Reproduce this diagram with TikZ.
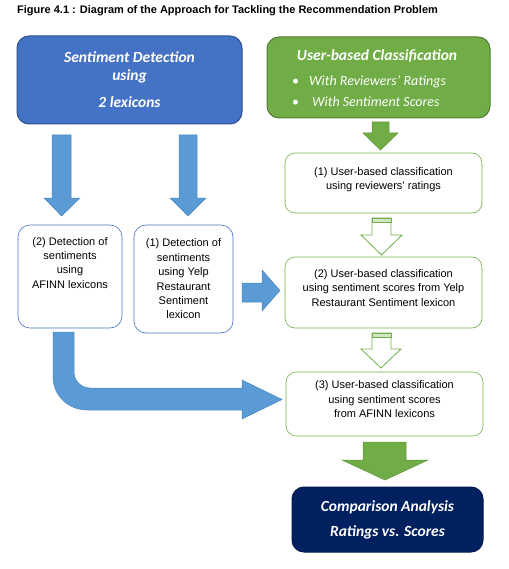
\documentclass[tikz,border=0pt]{standalone}
\usepackage{fontspec}
\setmainfont{Liberation Sans}
\newfontfamily\calibri{Carlito}
\definecolor{bluefill}{HTML}{4472C4}
\definecolor{blueedge}{HTML}{2F528F}
\definecolor{greenfill}{HTML}{70AD47}
\definecolor{greenedge}{HTML}{507E32}
\definecolor{arrowblue}{HTML}{5B9BD5}
\definecolor{arrowedge}{HTML}{4A86C0}
\definecolor{navy}{HTML}{002060}
\tikzset{
  headbox/.style={rounded corners=12pt, line width=1pt, text=white, align=center, inner sep=0pt,
    font=\calibri\bfseries\itshape\fontsize{15.5}{18}\selectfont},
  headtxt/.style={text=white, inner sep=0pt, font=\calibri\itshape\fontsize{14}{18}\selectfont},
  lexbox/.style={draw=bluefill, rounded corners=12pt, line width=0.6pt, fill=white},
  clsbox/.style={draw=greenfill, rounded corners=10pt, line width=0.6pt, fill=white, text depth=9.5pt},
  txt/.style={align=center, inner sep=0pt, font=\fontsize{11}{14.4}\selectfont},
  bluearrow/.style={fill=arrowblue, draw=arrowedge, line width=0.5pt},
  greenarrow/.style={fill=greenfill, draw=greenfill!85!black, line width=0.5pt},
  hollowarrow/.style={fill=white, draw=greenfill, line width=0.8pt}
}
\begin{document}
\begin{tikzpicture}[x=1pt, y=-1pt]
  \useasboundingbox (0,0) rectangle (508,569);
  \node[anchor=west, inner sep=0pt, font=\bfseries\fontsize{11}{12}\selectfont] (title) at (17,11)
    {Figure 4.1 : Diagram of the Approach for Tackling the Recommendation Problem};
  % top boxes
  \node[headbox, fill=bluefill, draw=blueedge, minimum width=225pt, minimum height=88pt] (detect) at (129.5,80)
    {Sentiment Detection\\using\\[9pt]2 lexicons};
  \node[headbox, fill=greenfill, draw=greenedge, minimum width=223pt, minimum height=81pt] (userbox) at (378.5,77.5) {};
  \node[headtxt, font=\calibri\bfseries\itshape\fontsize{15.5}{18}\selectfont] (usertitle) at (377,56) {User-based Classification};
  \node[headtxt, anchor=west] (bulletA) at (292,82) {\upshape\textbullet\hspace{10pt}\itshape With Reviewers’ Ratings};
  \node[headtxt, anchor=west] (bulletB) at (292,102) {\upshape\textbullet\hspace{13pt}\itshape With Sentiment Scores};
  % lexicon boxes
  \node[lexbox, minimum width=104pt, minimum height=103pt] (afinnbox) at (70,276.5) {};
  \node[txt, anchor=north] (afinntext) at (70,237) {(2) Detection of\\sentiments\\using\\AFINN lexicons};
  \node[lexbox, txt, minimum width=99pt, minimum height=108pt] (yelpbox) at (183.5,279)
    {(1) Detection of\\sentiments\\using Yelp\\Restaurant\\Sentiment\\lexicon};
  % classification boxes
  \node[clsbox, txt, minimum width=197pt, minimum height=60pt] (ratingbox) at (383.5,183)
    {(1) User-based classification\\using reviewers’ ratings};
  \node[clsbox, txt, minimum width=197pt, minimum height=71pt] (yelpscore) at (383.5,292.5)
    {(2) User-based classification\\using sentiment scores from Yelp\\Restaurant Sentiment lexicon};
  \node[clsbox, txt, minimum width=197pt, minimum height=64pt] (afinnscore) at (384.5,404)
    {(3) User-based classification\\using sentiment scores\\from AFINN lexicons};
  \node[headbox, fill=navy, draw=navy!80!black, minimum width=191pt, minimum height=65pt] (compare) at (387.5,519.5)
    {Comparison Analysis\\[7pt]Ratings vs. Scores};
  % blue arrows
  \draw[bluearrow] (52,135)--(71,135)--(71,198)--(80,198)--(61.5,216)--(44,198)--(52,198)--cycle;
  \draw[bluearrow] (179,135)--(197,135)--(197,198)--(206,198)--(188,216)--(170,198)--(179,198)--cycle;
  \draw[bluearrow] (242,283)--(262,283)--(262,270)--(280,290.5)--(262,311)--(262,302)--(242,302)--cycle;
  \draw[bluearrow] (53,332)--(74,332)--(74,372) .. controls (74,380.8) and (81.2,388) .. (90,388)
    --(242,388)--(242,380)--(282,399.5)--(242,419)--(242,410)--(87,410)
    .. controls (68.2,410) and (53,395.2) .. (53,377)--cycle;
  % green arrows
  \draw[greenarrow] (372,122)--(389,122)--(389,133)--(398,133)--(380.5,150)--(363,133)--(372,133)--cycle;
  \draw[hollowarrow] (372,218)--(391,218)--(391,235)--(402,235)--(381.5,255)--(361,235)--(372,235)--cycle;
  \filldraw[fill=greenfill!30, draw=greenfill, line width=0.8pt] (372,218) rectangle (391,222);
  \draw[hollowarrow] (372,333)--(391,333)--(391,349)--(401,349)--(381,368)--(361,349)--(372,349)--cycle;
  \filldraw[fill=greenfill!30, draw=greenfill, line width=0.8pt] (372,333) rectangle (391,337);
  \draw[greenarrow] (363,442)--(406,442)--(406,460)--(428,460)--(385,480)--(342,460)--(363,460)--cycle;
\end{tikzpicture}
\end{document}
